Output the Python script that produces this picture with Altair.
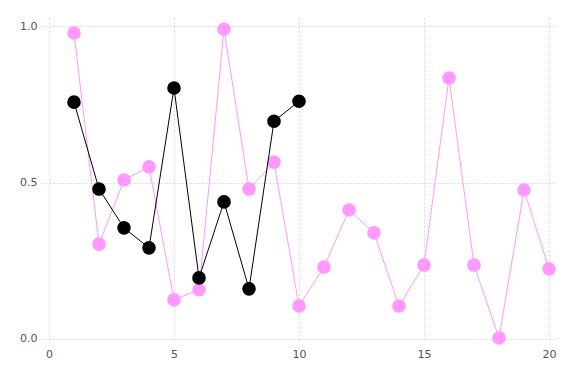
import altair as alt
import pandas as pd

pink_x = list(range(1, 21))
pink_y = [0.978, 0.303, 0.508, 0.55, 0.125, 0.157, 0.99, 0.479, 0.565, 0.105,
          0.23, 0.412, 0.339, 0.105, 0.236, 0.834, 0.236, 0.003, 0.476, 0.224]
black_x = list(range(1, 11))
black_y = [0.757, 0.479, 0.355, 0.291, 0.802, 0.195, 0.438, 0.16, 0.696, 0.76]

pink = pd.DataFrame({"x": pink_x, "y": pink_y})
black = pd.DataFrame({"x": black_x, "y": black_y})

xs = alt.Scale(domain=[-0.32, 20.32], nice=False, zero=False)
ys = alt.Scale(domain=[-0.01, 1.026], nice=False, zero=False)

xaxis = alt.Axis(values=[0, 5, 10, 15, 20], title=None, domain=False, ticks=False,
                 labelPadding=6, grid=True)
yaxis = alt.Axis(values=[0, 0.5, 1.0], format=".1f", title=None, domain=False, ticks=False,
                 labelPadding=4, grid=True)

def layer(df, color):
    enc = dict(
        x=alt.X("x:Q", scale=xs, axis=xaxis),
        y=alt.Y("y:Q", scale=ys, axis=yaxis),
    )
    line = alt.Chart(df).mark_line(color=color, strokeWidth=1).encode(**enc)
    pts = alt.Chart(df).mark_circle(color=color, size=185, opacity=1).encode(**enc)
    return line + pts

chart = alt.layer(
    layer(pink, "#ff99ff"),
    layer(black, "#000000"),
).properties(
    width=516, height=324,
    autosize=alt.AutoSizeParams(type="none"),
    padding={"left": 33, "top": 10, "right": 10, "bottom": 30},
).configure_axis(
    gridColor="#d8d6e6", gridDash=[2, 2], gridWidth=1,
    labelColor="#555555", labelFontSize=11, labelFont="DejaVu Sans",
).configure_view(stroke=None)

chart.save("out.html", embed_options={"renderer": "svg", "actions": False})
